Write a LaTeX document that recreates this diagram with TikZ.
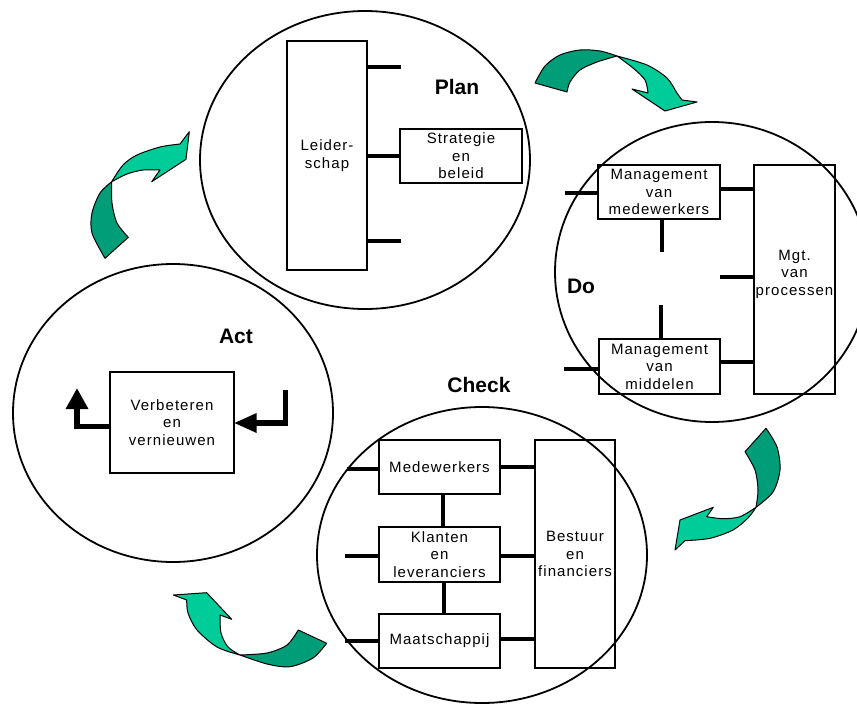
\documentclass[tikz,border=0pt]{standalone}
\usepackage{fontspec}
\setmainfont{Liberation Sans}
\definecolor{dk}{RGB}{0,158,120}
\definecolor{lt}{RGB}{0,204,153}
\begin{document}
\begin{tikzpicture}[x=1pt,y=-1pt,
  oval/.style={draw,line width=1.8pt},
  txt/.style={align=center,inner sep=0pt,
    font=\fontsize{15}{17.5}\selectfont\addfontfeature{LetterSpace=7}},
  box/.style={txt,draw,line width=1.2pt},
  stub/.style={line width=4pt},
  lbl/.style={font=\fontsize{21}{24}\selectfont\bfseries},
  darr/.style={fill=dk,draw=black,line width=1pt,line join=round},
  larr/.style={fill=lt,draw=black,line width=1pt,line join=round},
  actl/.style={line width=5.5pt}]
\path[use as bounding box] (0,0) rectangle (857,704);

% ellipses
\draw[oval] (365,160) ellipse [x radius=165pt, y radius=149pt];
\draw[oval] (712,272) ellipse [x radius=157pt, y radius=150pt];
\draw[oval] (173,413) ellipse [x radius=160pt, y radius=149pt];
\draw[oval] (482,555) ellipse [x radius=165pt, y radius=148pt];

% labels
\node[lbl] (tplan) at (457,87) {Plan};
\node[lbl] (tdo) at (581,286) {Do};
\node[lbl] (tact) at (236,336) {Act};
\node[lbl] (tcheck) at (479,385) {Check};

% Plan
\node[box,minimum width=80pt,minimum height=229pt] (lead) at (327,155.5) {Leider-\\schap};
\node[box,minimum width=122pt,minimum height=54pt] (strat) at (461,156) {Strategie\\en\\beleid};
\coordinate (p1) at (401,67);
\coordinate (p3) at (401,241);
\draw[stub] (p1) -- (p1 -| lead.east);
\draw[stub] (strat.west -| lead.east) -- (strat.west);
\draw[stub] (p3) -- (p3 -| lead.east);

% Do
\node[box,minimum width=122pt,minimum height=54pt] (mmw) at (659,192) {Management\\van\\medewerkers};
\node[box,minimum width=81pt,minimum height=229pt] (mgt) at (794.5,279.5) {};
\node[txt] (mgttxt) at (794.5,274) {Mgt.\\van\\processen};
\node[box,minimum width=121pt,minimum height=55pt] (mmid) at (659.5,366.5) {Management\\van\\middelen};
\coordinate (d1) at (565,193);
\coordinate (d2) at (720,277);
\coordinate (d3) at (662,252);
\coordinate (d4) at (661,305);
\coordinate (d5) at (564,369);
\draw[stub] (d1) -- (d1 -| mmw.west);
\draw[stub] ([yshift=3pt]mmw.east) -- ([yshift=3pt]mmw.east -| mgt.west);
\draw[stub] (d2) -- (d2 -| mgt.west);
\draw[stub] (d3) -- (d3 |- mmw.south);
\draw[stub] (d4) -- (d4 |- mmid.north);
\draw[stub] (d5) -- (d5 -| mmid.west);
\draw[stub] ([yshift=4.5pt]mmid.east) -- ([yshift=4.5pt]mmid.east -| mgt.west);

% Check
\node[box,minimum width=121pt,minimum height=54pt] (medw) at (439.5,467) {Medewerkers};
\node[box,minimum width=121pt,minimum height=55pt] (klant) at (439.5,554.5) {Klanten\\en\\leveranciers};
\node[box,minimum width=121pt,minimum height=54pt] (maat) at (439.5,641) {Maatschappij};
\node[box,minimum width=80pt,minimum height=228pt] (best) at (575,554) {Bestuur\\en\\financiers};
\coordinate (c1) at (347,469);
\coordinate (c2) at (345,556);
\coordinate (c3) at (345,641);
\draw[stub] (c1) -- (c1 -| medw.west);
\draw[stub] (medw.east) -- (medw.east -| best.west);
\draw[stub] ([xshift=3.5pt]medw.south) -- ([xshift=3.5pt]klant.north);
\draw[stub] (c2) -- (c2 -| klant.west);
\draw[stub] ([yshift=-1.5pt]klant.east) -- ([yshift=-1.5pt]klant.east -| best.west);
\draw[stub] ([xshift=4.5pt]klant.south) -- ([xshift=4.5pt]maat.north);
\draw[stub] (c3) -- (c3 -| maat.west);
\draw[stub] ([yshift=2pt]maat.east) -- ([yshift=2pt]maat.east -| best.west);

% Act
\node[box,minimum width=124pt,minimum height=101pt] (verb) at (172,422.5) {Verbeteren\\en\\vernieuwen};
\coordinate (a1) at (77,426.7);
\coordinate (a2) at (77,408);
\coordinate (b1) at (285.7,390);
\coordinate (b2) at (285.7,423);
\draw[actl] (a1 -| verb.west) -- (a1) -- (a2);
\fill (a2) ++(-11.5,1) -- ++(11.5,-20.5) -- ++(11.5,20.5) -- cycle;
\draw[actl] (b1) -- (b2) -- ([xshift=21pt]b2 -| verb.east);
\fill (b2 -| verb.east) -- ++(22,-10) -- ++(0,20) -- cycle;

% green arrows
% top (Plan -> Do)
\filldraw[darr] plot[smooth] coordinates {(535,83) (545,66) (560,55) (580,50) (600,51) (617,56)}
  -- plot[smooth] coordinates {(617,56) (597,62) (580,70) (570,82) (567,92)} -- cycle;
\filldraw[larr] plot[smooth] coordinates {(617,56) (647,65) (667,78) (677,93) (682,100)}
  -- (697,102) -- (665,111) -- (632,89) -- (648,93)
  -- plot[smooth] coordinates {(648,93) (645,80) (633,68) (617,56)} -- cycle;
% left (Act -> Plan)
\filldraw[darr] plot[smooth] coordinates {(111.7,181.7) (100,193) (92,213) (92,233) (105,258.3)}
  -- (128.3,237.3)
  -- plot[smooth] coordinates {(128.3,237.3) (117,223) (112,203) (111.7,181.7)} -- cycle;
\filldraw[larr] plot[smooth] coordinates {(111.7,181.7) (123,165) (137,155) (160,147) (180,144)}
  -- (189.3,131.7) -- (186,159.3) -- (151.7,181.7) -- (160,170)
  -- plot[smooth] coordinates {(160,170) (143,170) (127,174) (111.7,181.7)} -- cycle;
% right (Do -> Check)
\filldraw[darr] (745,451.7) -- (766,428.3)
  -- plot[smooth] coordinates {(766,428.3) (777,447) (780,470) (773,492) (756,507.3)}
  -- plot[smooth] coordinates {(756,507.3) (758,490) (755,470) (745,451.7)} -- cycle;
\filldraw[larr] plot[smooth] coordinates {(756,507.3) (740,516.7) (723,518.7) (706.7,516.7)}
  -- (713.3,507.3) -- (680,520) -- (675,550) -- (685,540.7)
  -- plot[smooth] coordinates {(685,540.7) (710,538.3) (733,530) (748,518) (756,507.3)} -- cycle;
% bottom (Check -> Act)
\filldraw[darr] (298.3,630) -- (326.7,643.3)
  -- plot[smooth] coordinates {(326.7,643.3) (313,658) (290,666.7) (267,664) (240,655)}
  -- plot[smooth] coordinates {(240,655) (267,653) (287,645) (298.3,630)} -- cycle;
\filldraw[larr] plot[smooth] coordinates {(240,655) (217,647) (197,630) (188,613) (186.7,600)}
  -- (173.3,595) -- (206.7,592.7) -- (231.7,619.3) -- (220,615)
  -- plot[smooth] coordinates {(220,615) (221,633) (228,647) (240,655)} -- cycle;
\end{tikzpicture}
\end{document}
